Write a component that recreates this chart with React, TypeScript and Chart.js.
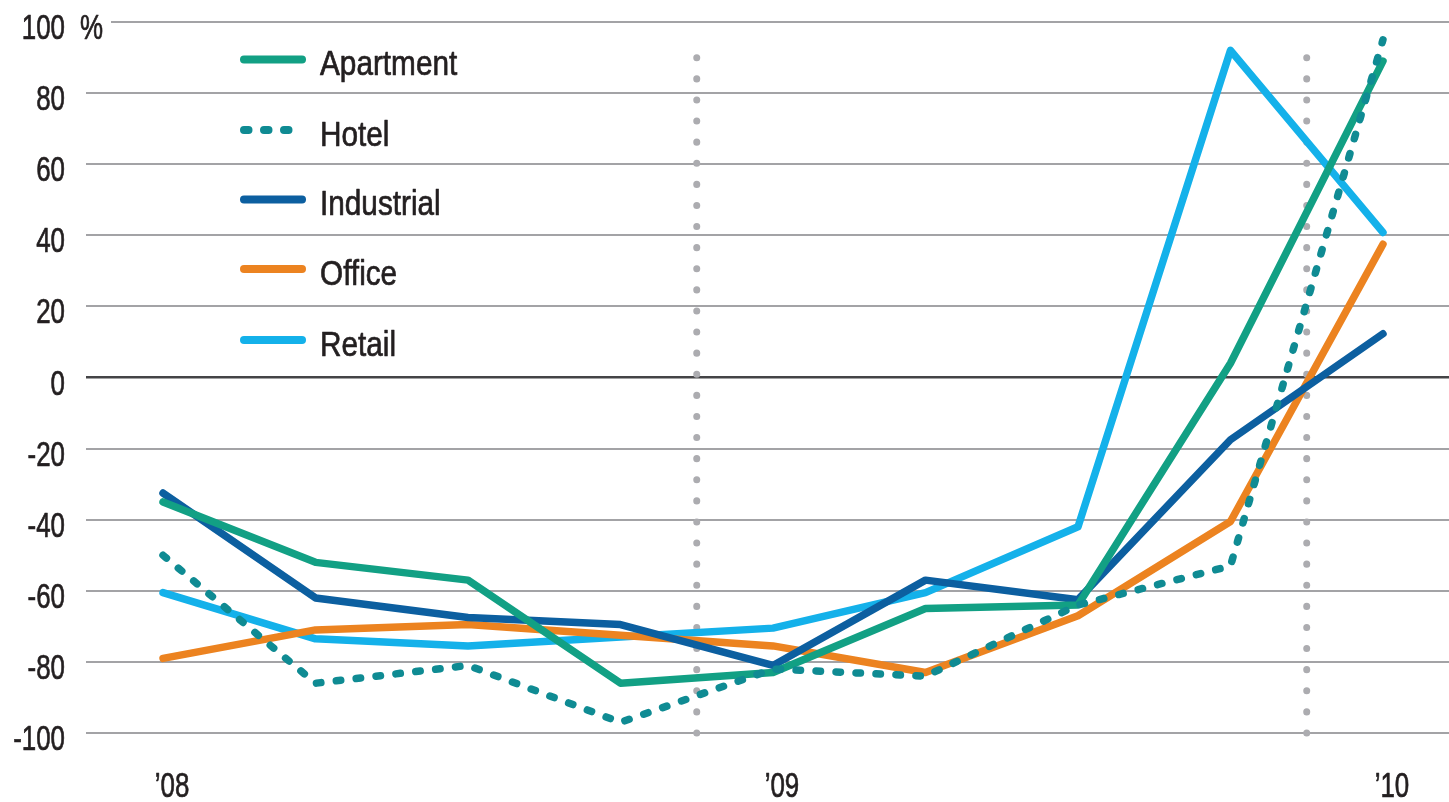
import React, { useEffect, useRef } from "react";
import { Chart, registerables } from "chart.js";

Chart.register(...registerables);

// ---- data ----
const quarterIndex = [0, 1, 2, 3, 4, 5, 6, 7, 8];
const xTickPositions = [0, 4, 8];
const xTickLabels = ["’08", "’09", "’10"];
const yearDividers = [3.5, 7.5];
const yUnitLabel = "%";

const seriesNames = ["Apartment", "Hotel", "Industrial", "Office", "Retail"];
const apartment = [-35, -52, -57, -86, -83, -65, -64, 4, 89];
const hotel = [-50, -86, -81, -97, -82, -84, -64, -53, 95];
const industrial = [-32.5, -62, -67.5, -69.5, -81, -57, -62.5, -17.5, 12.3];
const office = [-79, -71, -69.5, -72.5, -75.5, -83, -67, -40.5, 37.5];
const retail = [-60.5, -73.5, -75.5, -73, -70.5, -60.5, -42, 92, 40.8];

const FONT = '"Liberation Sans", Arial, sans-serif';
const TEXT_COLOR = "#231f20";

const colors = ["#12a084", "#0f8b93", "#0c5fa0", "#ec8320", "#14b1ea"];
const dashes: number[][] = [[], [4.5, 15.5], [], [], []];
const values = [apartment, hotel, industrial, office, retail];
const drawOrder = [1, 0, 2, 3, 4];

const toPoints = (arr: number[]) => quarterIndex.map((q, i) => ({ x: q, y: arr[i] }));

function drawScaledText(ctx: CanvasRenderingContext2D, text: string, x: number, y: number, align: CanvasTextAlign, sx: number, size: number) {
  ctx.save();
  ctx.translate(x, y);
  ctx.scale(sx, 1);
  ctx.font = `${size}px ${FONT}`;
  ctx.fillStyle = TEXT_COLOR;
  ctx.strokeStyle = TEXT_COLOR;
  ctx.lineWidth = 0.7;
  ctx.lineJoin = "round";
  ctx.textAlign = align;
  ctx.textBaseline = "alphabetic";
  ctx.fillText(text, 0, 0);
  ctx.strokeText(text, 0, 0);
  ctx.restore();
}

const extrasPlugin = {
  id: "extras",
  beforeDatasetsDraw(chart: any) {
    const { ctx, scales, chartArea } = chart;
    const xs = scales.x;
    const ys = scales.y;
    ctx.save();
    const yTop = ys.getPixelForValue(100);
    ctx.fillStyle = "#ffffff";
    ctx.fillRect(chartArea.left - 1, yTop - 3, 26, 6);
    // year dividers
    ctx.strokeStyle = "#acacb0";
    ctx.lineWidth = 7;
    ctx.lineCap = "round";
    ctx.setLineDash([0.1, 21]);
    yearDividers.forEach((v) => {
      const px = xs.getPixelForValue(v);
      ctx.beginPath();
      ctx.moveTo(px, ys.getPixelForValue(-100));
      ctx.lineTo(px, ys.getPixelForValue(95.5));
      ctx.stroke();
    });
    ctx.restore();
  },
  afterDraw(chart: any) {
    const { ctx, scales } = chart;
    const xs = scales.x;
    const ys = scales.y;
    ctx.save();
    // y tick labels
    ys.ticks.forEach((t: any) => {
      const py = ys.getPixelForValue(t.value);
      drawScaledText(ctx, String(t.value), 65, py + 17, "right", 0.74, 35);
    });
    drawScaledText(ctx, yUnitLabel, 80, ys.getPixelForValue(100) + 17, "left", 0.74, 35);
    // x tick labels
    xTickPositions.forEach((v, i) => {
      drawScaledText(ctx, xTickLabels[i], xs.getPixelForValue(v) + 9, 797, "center", 0.74, 35);
    });
    // legend
    const rowYs = [59.5, 130, 199.5, 269, 340];
    chart.data.datasets.forEach((ds: any, i: number) => {
      const y = rowYs[i];
      ctx.strokeStyle = ds.borderColor;
      ctx.lineWidth = 8;
      ctx.lineCap = "round";
      ctx.setLineDash(ds.borderDash || []);
      ctx.beginPath();
      ctx.moveTo(244, y);
      ctx.lineTo(302, y);
      ctx.stroke();
      ctx.setLineDash([]);
      drawScaledText(ctx, ds.label, 320, y + 15.5, "left", 0.85, 35);
    });
    ctx.restore();
  },
};

export default function App() {
  const canvasRef = useRef<HTMLCanvasElement | null>(null);

  useEffect(() => {
    if (!canvasRef.current) return;
    const datasets = seriesNames.map((name, i) => ({
      label: name,
      data: toPoints(values[i]),
      borderColor: colors[i],
      backgroundColor: colors[i],
      borderWidth: 7.5,
      borderDash: dashes[i],
      borderCapStyle: "round" as const,
      borderJoinStyle: "round" as const,
      pointRadius: 0,
      pointHoverRadius: 0,
      tension: 0,
      fill: false,
      clip: false as any,
      order: drawOrder[i],
    }));

    const chart = new Chart(canvasRef.current, {
      type: "line",
      data: { datasets },
      plugins: [extrasPlugin],
      options: {
        animation: false,
        responsive: true,
        maintainAspectRatio: false,
        layout: { padding: { top: 22, right: 0, left: 0, bottom: 0 } },
        plugins: {
          legend: { display: false },
          tooltip: { enabled: false },
          title: { display: false },
        },
        scales: {
          x: {
            type: "linear",
            min: -0.505,
            max: 8.433,
            afterBuildTicks: (scale: any) => {
              scale.ticks = xTickPositions.map((v) => ({ value: v }));
            },
            afterFit: (scale: any) => {
              scale.height = 69;
              scale.paddingLeft = 0;
              scale.paddingRight = 0;
            },
            ticks: { display: false },
            grid: { display: false, drawTicks: false },
            border: { display: false },
          },
          y: {
            type: "linear",
            min: -100,
            max: 100,
            afterFit: (scale: any) => {
              scale.width = 86;
              scale.paddingTop = 0;
              scale.paddingBottom = 0;
            },
            ticks: { stepSize: 20, display: false },
            grid: {
              drawTicks: false,
              lineWidth: (ctx: any) => (ctx.tick && ctx.tick.value === 0 ? 2.5 : 2),
              color: (ctx: any) => (ctx.tick && ctx.tick.value === 0 ? "#444446" : "#a3a3a6"),
            },
            border: { display: false },
          },
        },
      },
    });
    return () => chart.destroy();
  }, []);

  return (
    <div style={{ position: "fixed", left: 0, top: 0, width: 1449, height: 802, background: "#fff" }}>
      <canvas ref={canvasRef} />
    </div>
  );
}
